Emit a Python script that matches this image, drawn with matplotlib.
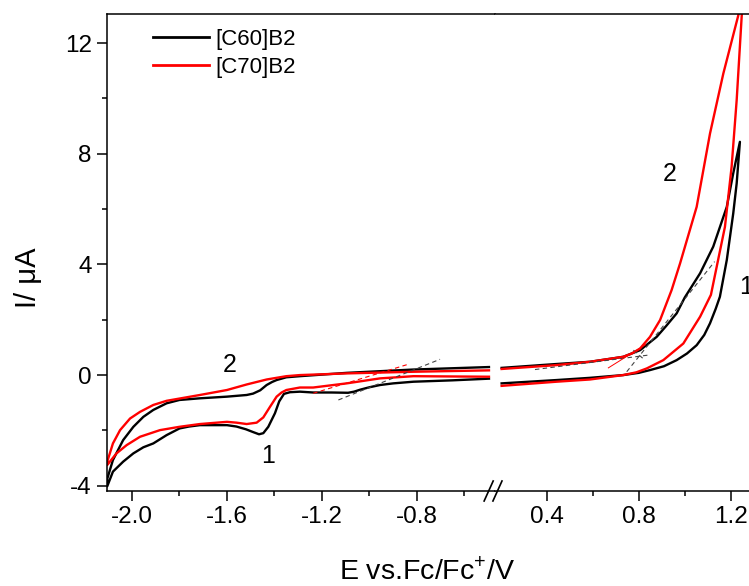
import matplotlib
matplotlib.use("Agg")
import matplotlib.pyplot as plt

plt.rcParams['font.family'] = ['Liberation Sans', 'DejaVu Sans']
plt.rcParams['mathtext.fontset'] = 'custom'
plt.rcParams['mathtext.rm'] = 'Liberation Sans'
plt.rcParams['axes.unicode_minus'] = False

# ---- data (E in V vs Fc/Fc+, I in uA) ----
# reduction window, [C60]B2: forward (cathodic) sweep then return
c60_red_E = [-0.497, -0.65, -0.815, -0.90, -0.956, -1.00, -1.04, -1.065, -1.09, -1.16, -1.237,
             -1.293, -1.335, -1.36, -1.38, -1.398, -1.426, -1.447, -1.465, -1.49, -1.52, -1.56,
             -1.60, -1.714, -1.76, -1.80, -1.854, -1.91, -1.952, -1.994, -2.037, -2.08, -2.104,
             -2.104, -2.08, -2.037, -1.994, -1.952, -1.91, -1.854, -1.80, -1.714, -1.60,
             -1.517, -1.49, -1.46, -1.433, -1.41, -1.391, -1.35, -1.293, -1.096, -0.815, -0.497]
c60_red_I = [-0.13, -0.19, -0.24, -0.30, -0.36, -0.44, -0.53, -0.60, -0.64, -0.63, -0.63,
             -0.60, -0.62, -0.68, -0.95, -1.38, -1.87, -2.10, -2.14, -2.06, -1.96, -1.86,
             -1.81, -1.81, -1.86, -1.93, -2.17, -2.47, -2.61, -2.83, -3.13, -3.49, -4.02,
             -3.75, -3.07, -2.35, -1.87, -1.51, -1.26, -1.02, -0.90, -0.84, -0.78,
             -0.72, -0.67, -0.55, -0.36, -0.25, -0.18, -0.08, -0.04, 0.08, 0.20, 0.29]

# reduction window, [C70]B2
c70_red_E = [-0.497, -0.815, -0.956, -1.096, -1.237, -1.293, -1.35, -1.37, -1.391, -1.419,
             -1.447, -1.475, -1.517, -1.56, -1.60, -1.714, -1.80, -1.882, -1.966, -2.022,
             -2.065, -2.104,
             -2.104, -2.08, -2.05, -2.008, -1.966, -1.91, -1.854, -1.714, -1.60, -1.517,
             -1.433, -1.35, -1.293, -1.096, -0.815, -0.497]
c70_red_I = [-0.06, -0.04, -0.12, -0.30, -0.45, -0.45, -0.54, -0.63, -0.78, -1.15,
             -1.53, -1.72, -1.77, -1.72, -1.69, -1.77, -1.87, -1.99, -2.23, -2.53,
             -2.83, -3.25,
             -3.13, -2.47, -1.99, -1.57, -1.33, -1.08, -0.93, -0.72, -0.54, -0.34,
             -0.16, -0.04, 0.0, 0.06, 0.12, 0.17]

# oxidation window, [C60]B2
c60_ox_E = [0.204, 0.443, 0.588, 0.733, 0.80, 0.849, 0.91, 0.965, 1.01, 1.052, 1.085, 1.11,
            1.135, 1.153, 1.183, 1.211, 1.226, 1.240,
            1.211, 1.183, 1.124, 1.067, 1.00, 0.965, 0.92, 0.878, 0.806, 0.733, 0.588, 0.443,
            0.204]
c60_ox_I = [-0.30, -0.18, -0.10, 0.0, 0.08, 0.18, 0.32, 0.54, 0.78, 1.08, 1.45, 1.87,
            2.40, 2.83, 4.16, 5.84, 6.93, 8.43,
            7.29, 6.08, 4.64, 3.68, 2.80, 2.23, 1.78, 1.38, 0.90, 0.66, 0.48, 0.40,
            0.26]

# oxidation window, [C70]B2
c70_ox_E = [0.204, 0.443, 0.588, 0.733, 0.79, 0.835, 0.907, 0.994, 1.067, 1.114, 1.139, 1.175,
            1.204, 1.226, 1.248, 1.255,
            1.245, 1.233, 1.168, 1.110, 1.052, 0.980, 0.943, 0.893, 0.849, 0.806, 0.77, 0.733,
            0.588, 0.443, 0.204]
c70_ox_I = [-0.39, -0.24, -0.16, 0.0, 0.10, 0.24, 0.54, 1.14, 2.11, 2.90, 3.91, 5.36,
            7.53, 9.94, 13.0, 13.6,
            13.6, 13.0, 10.9, 8.73, 6.08, 4.04, 3.07, 1.99, 1.38, 0.96, 0.78, 0.66,
            0.48, 0.36, 0.22]

# onset tangent lines
tan_red_gray_E = [-1.131, -0.703]
tan_red_gray_I = [-0.90, 0.57]
tan_red_red_E = [-1.237, -0.837]
tan_red_red_I = [-0.66, 0.39]
tan_ox_base_E = [0.349, 0.84]
tan_ox_base_I = [0.20, 0.72]
tan_ox_steep_E = [0.748, 1.13]
tan_ox_steep_I = [0.12, 4.10]
tan_ox_short_E = [0.777, 0.827]
tan_ox_short_I = [0.90, 0.54]
tan_ox_red_E = [0.668, 0.83]
tan_ox_red_I = [0.26, 1.10]

labels = ['[C60]B2', '[C70]B2']
W, H = 749, 586

fig = plt.figure(figsize=(W / 100, H / 100), dpi=100)
ax1 = fig.add_axes([107 / W, 95 / H, 388 / W, 477 / H])
ax2 = fig.add_axes([495 / W, 95 / H, 259 / W, 477 / H])

ylim = (-4.19, 13.05)
lw = 1.7
dash = dict(color='#444444', lw=0.8, ls=(0, (4, 3)))

ax1.plot(c60_red_E, c60_red_I, color='black', lw=lw, label=labels[0])
ax1.plot(c70_red_E, c70_red_I, color='red', lw=lw, label=labels[1])
ax1.plot(tan_red_gray_E, tan_red_gray_I, **dash)
ax1.plot(tan_red_red_E, tan_red_red_I, color='red', lw=0.8, ls=(0, (4, 3)))

ax2.plot(c60_ox_E, c60_ox_I, color='black', lw=lw)
ax2.plot(c70_ox_E, c70_ox_I, color='red', lw=lw)
ax2.plot(tan_ox_base_E, tan_ox_base_I, **dash)
ax2.plot(tan_ox_steep_E, tan_ox_steep_I, **dash)
ax2.plot(tan_ox_short_E, tan_ox_short_I, **dash)
ax2.plot(tan_ox_red_E, tan_ox_red_I, color='red', lw=0.7)

ax1.set_xlim(-2.105, -0.4716)
ax2.set_xlim(0.1752, 1.3013)
for ax in (ax1, ax2):
    ax.set_ylim(*ylim)
    for s in ax.spines.values():
        s.set_linewidth(1.1)
    ax.tick_params(which='major', direction='out', length=7, width=1.1, labelsize=17.5, pad=4)
    ax.tick_params(which='minor', direction='out', length=3.8, width=1.1)

ax1.spines['right'].set_visible(False)
ax2.spines['left'].set_visible(False)
ax1.set_xticks([-2.0, -1.6, -1.2, -0.8])
ax1.set_xticklabels(['-2.0', '-1.6', '-1.2', '-0.8'])
ax1.set_xticks([-1.8, -1.4, -1.0, -0.6], minor=True)
ax1.set_yticks([-4, 0, 4, 8, 12])
ax1.set_yticks([-2, 2, 6, 10], minor=True)
ax2.set_xticks([0.4, 0.8, 1.2])
ax2.set_xticklabels(['0.4', '0.8', '1.2'])
ax2.set_xticks([0.6, 1.0], minor=True)
ax2.set_yticks([])
ax2.tick_params(axis='y', which='both', left=False, right=False, labelleft=False)

# axis break marks
for x0 in (-0.042, -0.008):
    ax2.plot([x0, x0 + 0.035], [-0.021, 0.021], transform=ax2.transAxes,
             color='black', lw=1.2, clip_on=False)

# peak labels
ax1.text(-1.587, 0.36, '2', fontsize=18, ha='center', va='center')
ax1.text(-1.427, -2.93, '1', fontsize=18, ha='center', va='center')
ax2.text(0.936, 7.26, '2', fontsize=18, ha='center', va='center')
ax2.text(1.238, 3.2, '1', fontsize=18, ha='left', va='center', clip_on=False)

leg = ax1.legend(loc='upper left', bbox_to_anchor=(153 / W, 1 - 29 / H),
                 bbox_transform=fig.transFigure, frameon=False, fontsize=16,
                 handlelength=2.5, handletextpad=0.3, labelspacing=0.3,
                 borderpad=0, borderaxespad=0)
for h in leg.get_lines():
    h.set_linewidth(2.0)

fig.text(28 / W, 1 - 278 / H, 'I/ \u03bcA', rotation=90, fontsize=21,
         ha='center', va='center')
fig.text(427 / W, 1 - 579 / H, 'E vs.Fc/Fc$^{+}$/V', fontsize=20.5,
         ha='center', va='baseline')

fig.savefig('out.png', dpi=100)
